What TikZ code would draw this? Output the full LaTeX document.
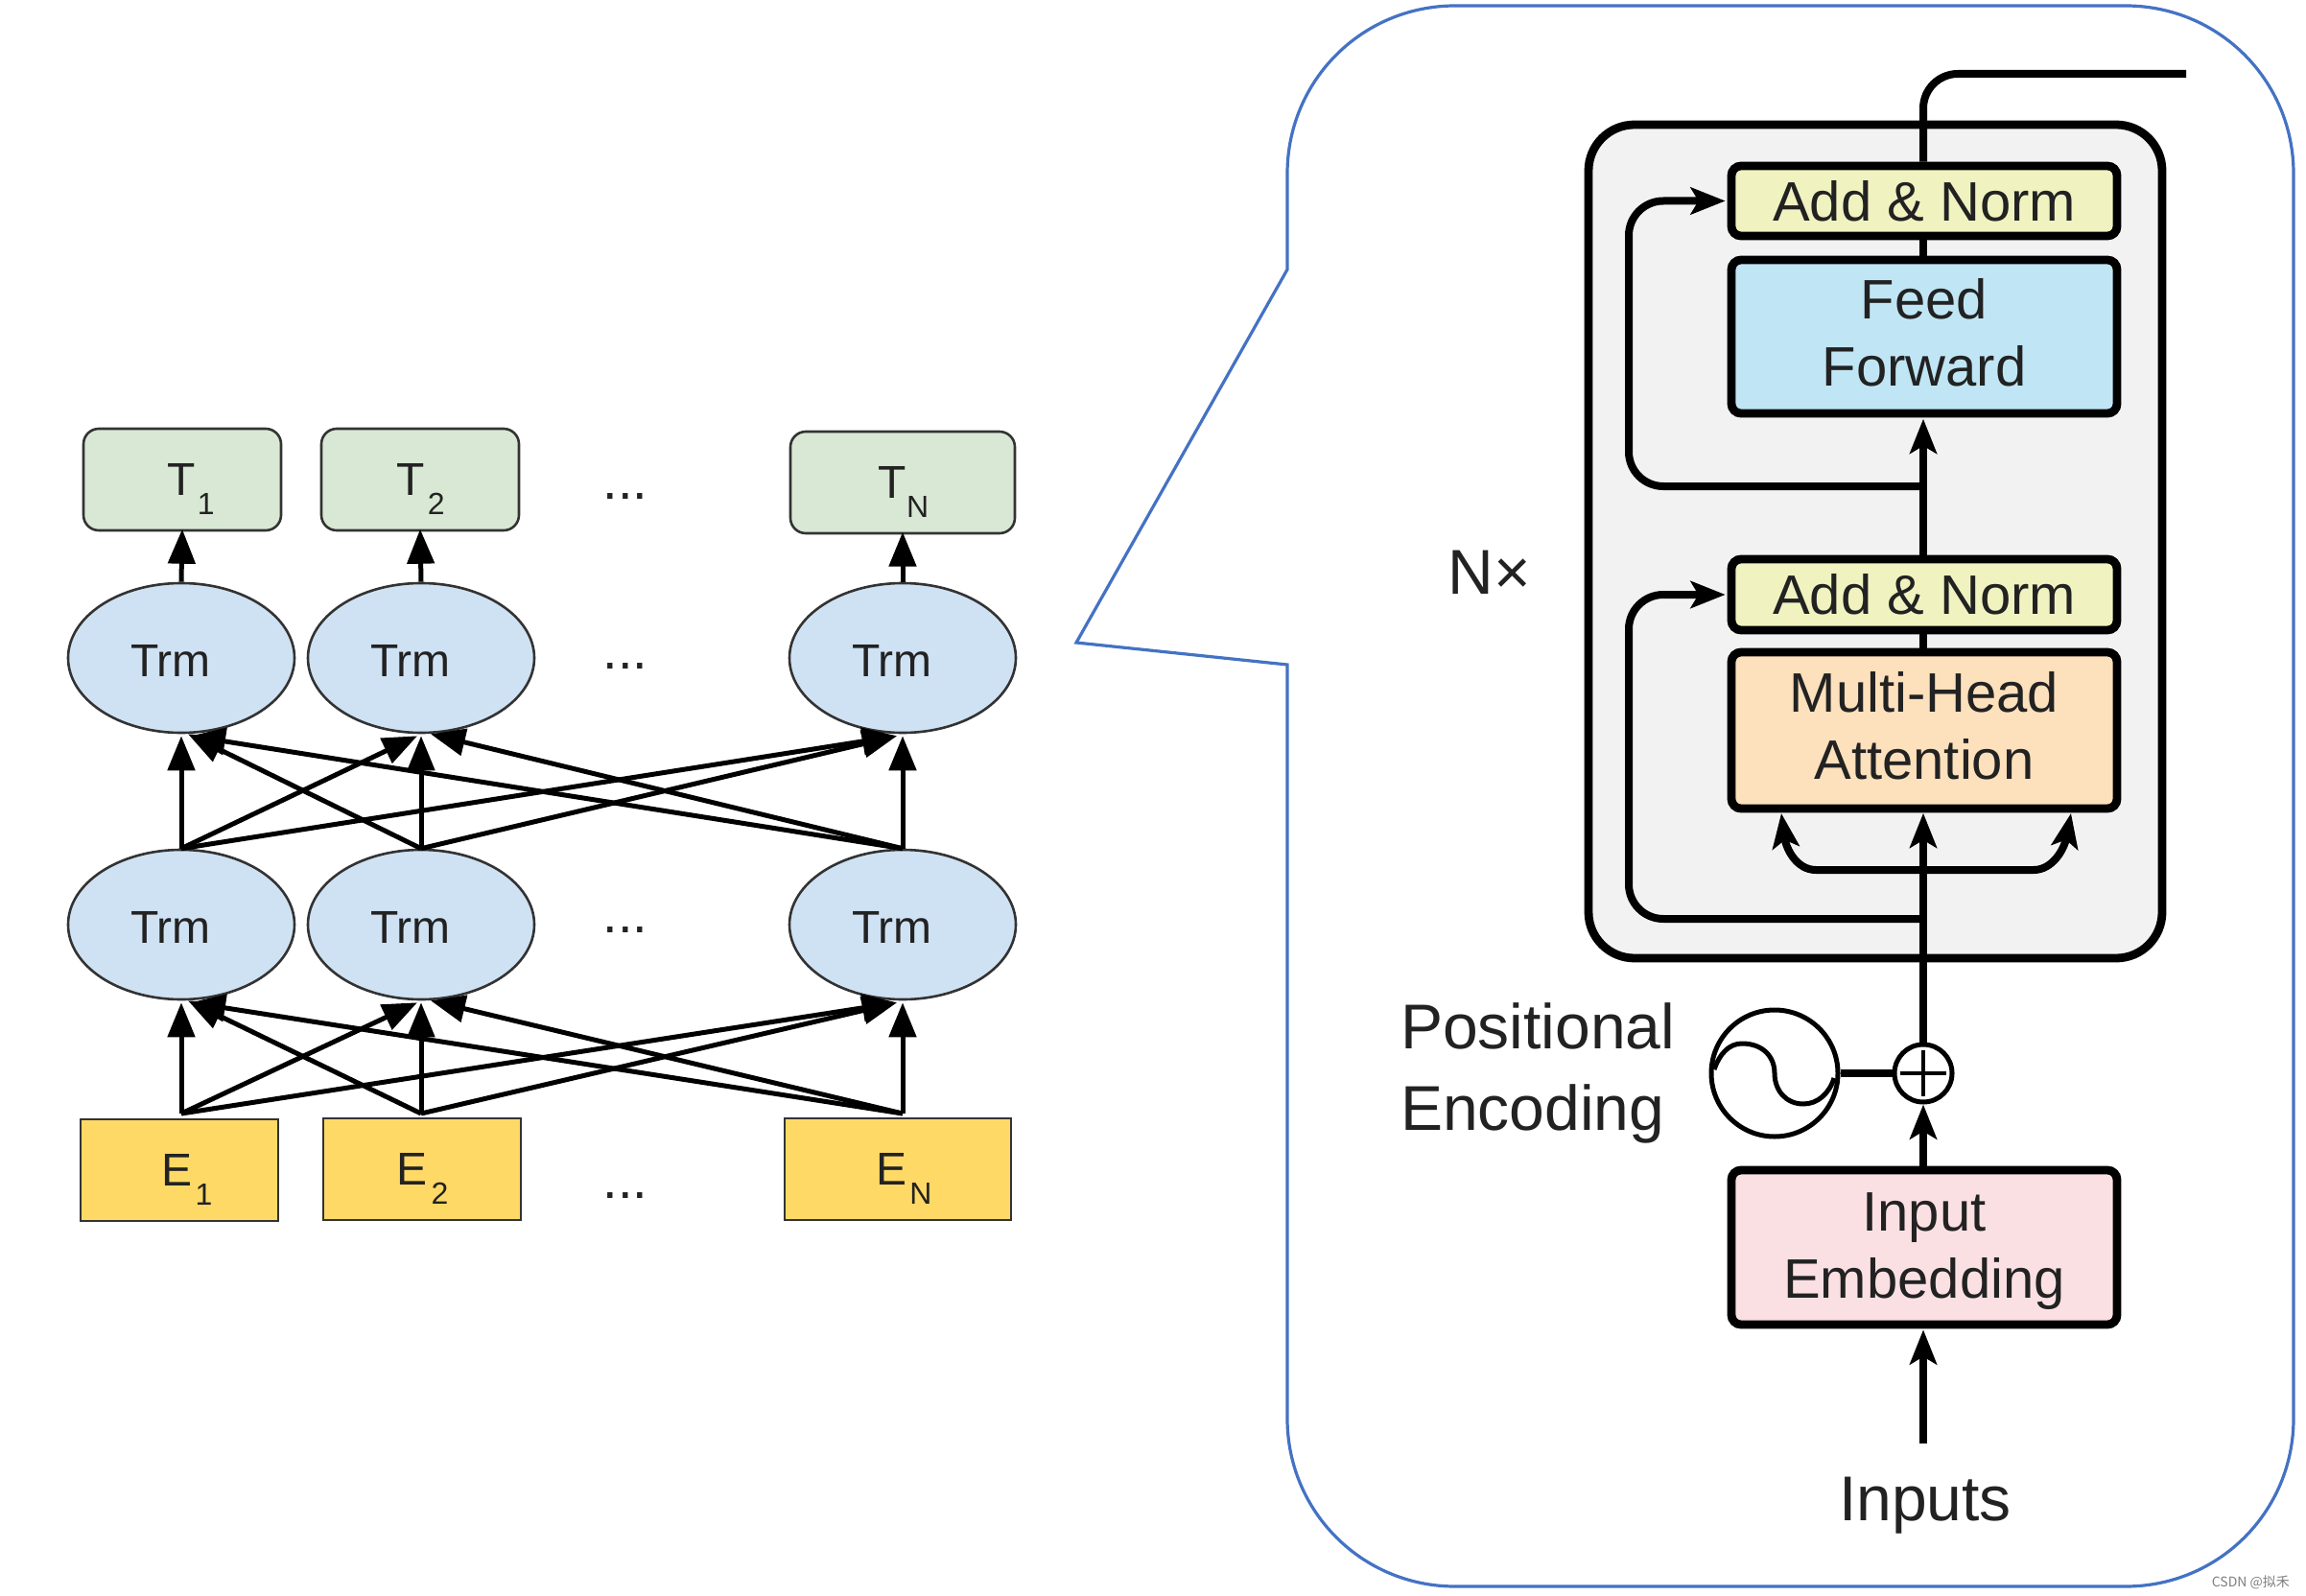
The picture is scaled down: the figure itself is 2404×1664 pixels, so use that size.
\documentclass[tikz,border=0pt]{standalone}
\usepackage{fontspec}
\setmainfont{Liberation Sans}
\newfontfamily\cjkf{Noto Sans CJK SC}
\usetikzlibrary{arrows.meta,shapes.geometric,calc}
\definecolor{greenbox}{HTML}{D9E8D4}
\definecolor{bluetrm}{HTML}{CFE2F3}
\definecolor{yellowbox}{HTML}{FFD966}
\definecolor{callout}{HTML}{4472C4}
\definecolor{addnorm}{HTML}{F0F3C0}
\definecolor{feedf}{HTML}{C0E6F5}
\definecolor{mhead}{HTML}{FDE0BC}
\definecolor{inemb}{HTML}{FBE0E3}
\definecolor{grayblock}{HTML}{F2F2F2}
\definecolor{edgegray}{HTML}{333333}
\definecolor{txt}{HTML}{222222}
\newcommand{\lab}[4]{\hspace*{#1pt}#2\kern#3pt\raisebox{-10pt}[0pt][0pt]{\fontsize{16}{16}\selectfont #4}}
\newcommand{\trmtxt}{\raisebox{-1.5pt}[\height][\depth]{Trm}\hspace*{11pt}}
\newcommand{\twolines}[3]{\raisebox{#1pt}[\height][\depth]{\parbox{198pt}{\centering #2\\#3}}}
\tikzset{
  x=0.5pt,y=-0.5pt,
  small/.style={font=\fontsize{24}{28}\selectfont,text=txt},
  big/.style={font=\fontsize{29}{35}\selectfont,text=txt,align=center},
  huge/.style={font=\fontsize{33}{42.5}\selectfont,text=txt},
  tbox/.style={small,draw=edgegray,line width=1.3pt,fill=greenbox,rounded corners=8pt,inner sep=0pt},
  ebox/.style={small,draw=edgegray,line width=1.3pt,fill=yellowbox,inner sep=0pt},
  trm/.style={small,ellipse,draw=edgegray,line width=1.3pt,fill=bluetrm,inner sep=0pt,minimum width=118pt,minimum height=78pt},
  blk/.style={big,draw=black,line width=4.4pt,rounded corners=5pt,inner sep=0pt,minimum width=201pt},
  dotsn/.style={font=\fontsize{28}{30}\selectfont,text=txt,anchor=base},
  arr/.style={line width=2.5pt,-{Triangle[length=18pt,width=14pt]}},
  thick line/.style={line width=4pt,black},
  tall/.style={line width=4pt,black,-{Stealth[length=18pt,width=14pt,inset=4pt]}},
}
\begin{document}
\begin{tikzpicture}
\useasboundingbox (0,0) rectangle (2404,1664);
\fill[white] (0,0) rectangle (2404,1664);

% callout
\draw[callout,line width=1.6pt,line join=miter]
  (1342,281) -- (1342,181) .. controls (1342,84) and (1420,6) .. (1517,6)
  -- (2216,6) .. controls (2313,6) and (2391,84) .. (2391,181)
  -- (2391,1479) .. controls (2391,1576) and (2313,1654) .. (2216,1654)
  -- (1517,1654) .. controls (1420,1654) and (1342,1576) .. (1342,1479)
  -- (1342,693) -- (1122,670) -- cycle;

% left: nodes
\node[tbox,minimum width=103pt,minimum height=53pt] (t1) at (190,500) {\lab{9}{T}{1}{1}};
\node[tbox,minimum width=103pt,minimum height=53pt] (t2) at (438,500) {\lab{0.5}{T}{1.5}{2}};
\node[tbox,minimum width=117pt,minimum height=53pt] (tn) at (941,503) {\lab{1}{T}{0}{N}};
\node[trm] (a1) at (189,686) {\trmtxt};
\node[trm] (a2) at (439,686) {\trmtxt};
\node[trm] (an) at (941,686) {\trmtxt};
\node[trm] (b1) at (189,964) {\trmtxt};
\node[trm] (b2) at (439,964) {\trmtxt};
\node[trm] (bn) at (941,964) {\trmtxt};
\node[ebox,minimum width=103pt,minimum height=53pt] (e1) at (187,1220) {\lab{8}{E}{1.5}{1}};
\node[ebox,minimum width=103pt,minimum height=53pt] (e2) at (440,1219) {\lab{0.5}{E}{2}{2}};
\node[ebox,minimum width=118pt,minimum height=53pt] (en) at (936,1219) {\lab{6.5}{E}{1.5}{N}};
\node[dotsn] (d1) at (652,520) {...};
\node[dotsn] (d2) at (652,697) {...};
\node[dotsn] (d3) at (652,972) {...};
\node[dotsn] (d4) at (652,1249) {...};

% left: start points above the E row
\coordinate (s1) at (189,1161);
\coordinate (s2) at (439,1161);
\coordinate (sn) at (941,1161);

% left: connectors
\foreach \lo/\up in {a1/t1,a2/t2,an/tn}
  \draw[arr] (\lo.north) -- ([yshift=1.3pt]\up.south);
\foreach \up/\i/\ii/\iii in {a/b1.north/b2.north/bn.north,b/s1/s2/sn}{
  \draw[arr] (\i) -- ([yshift=-1pt]\up1.south);
  \draw[arr] (\ii) -- ([yshift=-1pt]\up2.south);
  \draw[arr] (\iii) -- ([yshift=-1pt]\up n.south);
  \draw[arr] (\i) -- ([xshift=-2pt,yshift=-1pt]\up2.south);
  \draw[arr] (\ii) -- ([xshift=3.5pt,yshift=0pt]\up1.south);
  \draw[arr] (\iii) -- ([xshift=5pt,yshift=0pt]\up2.south);
  \draw[arr] (\iii) -- ([xshift=5pt,yshift=-1pt]\up1.south);
  \draw[arr] (\i) -- ([xshift=-3pt,yshift=-1pt]\up n.south);
  \draw[arr] (\ii) -- ([xshift=-3pt,yshift=-1pt]\up n.south);
}

% right: block
\node[draw=black,line width=4.4pt,fill=grayblock,rounded corners=24pt,minimum width=299pt,minimum height=434.5pt,inner sep=0pt] (block) at (1955,564.5) {};
\node[blk,fill=addnorm,minimum height=36.5pt] (an1) at (2006,209.5) {Add \& Norm};
\node[blk,fill=feedf,minimum height=80pt] (ff) at (2006,351) {\twolines{2.3}{Feed}{Forward}};
\node[blk,fill=addnorm,minimum height=37pt] (an2) at (2006,620) {Add \& Norm};
\node[blk,fill=mhead,minimum height=81.5pt] (mha) at (2006,761.5) {\twolines{2.3}{Multi-Head}{Attention}};
\node[blk,fill=inemb,minimum height=80.5pt] (ie) at (2006,1300.5) {\twolines{-2}{Input}{Embedding}};
\node[circle,draw=black,line width=2.5pt,fill=white,minimum size=30pt,inner sep=0pt] (plus) at (2005,1119) {};
\node[circle,draw=black,line width=2.5pt,minimum size=66pt,inner sep=0pt] (wave) at (1850,1119) {};
\node[huge] (nx) at (1553,597) {N×};
\node[huge,align=left,anchor=west] (pe) at (1453,1119) {Positional\\Encoding};
\node[huge] (inp) at (2007,1570) {Inputs};
\node[font=\cjkf\fontsize{7}{8}\selectfont,text=gray,anchor=east] (wm) at (2394,1650) {CSDN @拟禾};

% right: plus sign and sine wave
\draw[line width=2pt] ([yshift=12pt]plus.center) -- ([yshift=-12pt]plus.center);
\draw[line width=2pt] ([xshift=-12pt]plus.center) -- ([xshift=12pt]plus.center);
\draw[line width=2.5pt] (1787,1115) .. controls (1793,1098) and (1803,1088) .. (1816,1088)
  .. controls (1838,1088) and (1850,1102) .. (1850,1119)
  .. controls (1850,1137) and (1862,1151) .. (1880,1151)
  .. controls (1895,1151) and (1907,1140) .. (1912,1124);

% right: named points
\coordinate (infree) at (2005,1505);
\coordinate (outfree) at (2279,77);
\coordinate (j1) at (2005,507);
\coordinate (j2) at (2005,958);
\coordinate (j3) at (2005,907);
\coordinate (k1) at (1698,209.5);
\coordinate (k2) at (1698,620);
\coordinate (q1) at (1857,848);
\coordinate (q2) at (2159,848);

% right: connectors
\draw[tall] (infree) -- ([xshift=-0.5pt,yshift=-0.5pt]ie.south);
\draw[tall] ([xshift=-0.5pt]ie.north) -- (plus.south);
\draw[thick line] (plus.north) -- (j2);
\draw[tall] (j2) -- ([xshift=-0.5pt,yshift=-0.2pt]mha.south);
\draw[thick line] ([xshift=-0.5pt]mha.north) -- ([xshift=-0.5pt]an2.south);
\draw[tall] ([xshift=-0.5pt]an2.north) -- ([xshift=-0.5pt,yshift=-0.7pt]ff.south);
\draw[thick line] ([xshift=-0.5pt]ff.north) -- ([xshift=-0.5pt]an1.south);
\draw[thick line,rounded corners=18pt] ([xshift=-0.5pt]an1.north) |- (outfree);
\draw[thick line] (wave.east) -- (plus.west);
\draw[tall,rounded corners=18pt,shorten >=1pt] (j1) -| (k1) -- (an1.west);
\draw[tall,rounded corners=18pt,shorten >=1pt] (j2) -| (k2) -- (an2.west);
\draw[tall] (j3) -- (1893,907) .. controls (1873,907) and (1862,885) .. (q1);
\draw[tall] (j3) -- (2120,907) .. controls (2140,907) and (2152,885) .. (q2);
\end{tikzpicture}
\end{document}
